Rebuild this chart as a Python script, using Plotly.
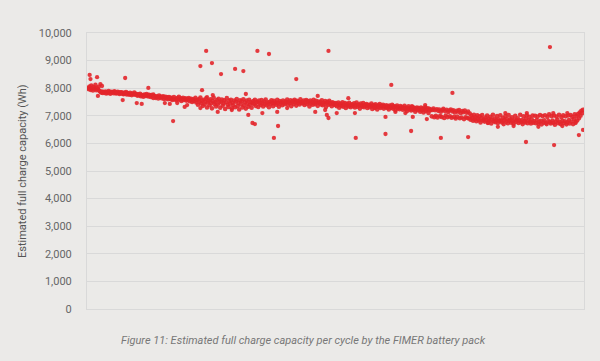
import plotly.graph_objects as go

# Main band of measurements: estimated full charge capacity (Wh) per cycle
capacity = [
    8010, 7970, 8060, 7940, 8100, 7990, 7920, 8040, 7980, 8120, 7930, 8000, 7960, 8050, 7900, 7870, 7840, 7880, 7830, 7860,
    7840, 7880, 7810, 7860, 7830, 7900, 7850, 7800, 7870, 7840, 7860, 7820, 7890, 7850, 7810, 7830, 7870, 7840, 7790, 7850,
    7820, 7850, 7800, 7780, 7830, 7810, 7860, 7770, 7820, 7800, 7760, 7830, 7790, 7750, 7810, 7780, 7840, 7760, 7800, 7770,
    7730, 7780, 7750, 7800, 7710, 7750, 7740, 7690, 7770, 7750, 7720, 7790, 7740, 7700, 7760, 7730, 7680, 7750, 7710, 7770,
    7720, 7690, 7650, 7710, 7690, 7630, 7730, 7670, 7700, 7640, 7680, 7710, 7610, 7660, 7690, 7630, 7670, 7600, 7680, 7650,
    7610, 7650, 7570, 7620, 7680, 7590, 7620, 7560, 7640, 7600, 7690, 7580, 7630, 7540, 7610, 7650, 7570, 7600, 7630, 7550,
    7610, 7580, 7640, 7530, 7590, 7620, 7500, 7560, 7600, 7540, 7650, 7480, 7570, 7400, 7600, 7510, 7660, 7450, 7540, 7360,
    7580, 7420, 7510, 7630, 7300, 7480, 7550, 7380, 7600, 7460, 7270, 7530, 7660, 7430, 7500, 7340, 7570, 7410, 7620, 7480,
    7290, 7520, 7590, 7370, 7450, 7560, 7250, 7490, 7640, 7400, 7320, 7540, 7440, 7580, 7270, 7470, 7380, 7550, 7310, 7510,
    7610, 7350, 7470, 7230, 7560, 7420, 7530, 7300, 7600, 7380, 7490, 7260, 7550, 7440, 7330, 7580, 7410, 7500, 7290, 7460,
    7530, 7420, 7580, 7360, 7480, 7510, 7320, 7550, 7450, 7390, 7570, 7470, 7340, 7520, 7430, 7590, 7380, 7490, 7450, 7310,
    7510, 7430, 7560, 7470, 7350, 7540, 7450, 7490, 7400, 7580, 7460, 7330, 7530, 7440, 7500, 7380, 7550, 7470, 7420, 7520,
    7480, 7590, 7400, 7510, 7460, 7560, 7350, 7480, 7540, 7430, 7580, 7500, 7370, 7540, 7460, 7520, 7410, 7600, 7470, 7500,
    7450, 7550, 7390, 7490, 7570, 7430, 7530, 7480, 7340, 7550, 7450, 7510, 7400, 7580, 7470, 7420, 7540, 7480, 7360, 7520,
    7460, 7500, 7410, 7560, 7380, 7480, 7440, 7530, 7320, 7470, 7510, 7400, 7540, 7430, 7470, 7350, 7490, 7420, 7450, 7390,
    7460, 7350, 7420, 7480, 7290, 7390, 7440, 7360, 7490, 7330, 7410, 7460, 7280, 7380, 7430, 7340, 7470, 7370, 7310, 7420,
    7400, 7350, 7450, 7300, 7390, 7480, 7330, 7410, 7370, 7260, 7440, 7380, 7340, 7460, 7310, 7400, 7360, 7430, 7280, 7370,
    7400, 7310, 7370, 7440, 7250, 7350, 7390, 7300, 7420, 7330, 7230, 7380, 7320, 7430, 7280, 7360, 7340, 7400, 7260, 7350,
    7310, 7380, 7280, 7340, 7230, 7370, 7320, 7290, 7400, 7260, 7350, 7310, 7200, 7330, 7370, 7270, 7300, 7240, 7350, 7280,
    7320, 7220, 7290, 7360, 7250, 7300, 7170, 7270, 7340, 7230, 7290, 7190, 7260, 7320, 7220, 7280, 7150, 7250, 7300, 7200,
    7280, 7230, 7150, 7300, 7200, 7260, 7120, 7240, 7310, 7170, 7220, 7270, 7100, 7250, 7190, 7230, 6980, 7210, 7260, 6950,
    7200, 7000, 7240, 6940, 7180, 7230, 6990, 7150, 6960, 7210, 7250, 6920, 7170, 7010, 7220, 6950, 7140, 7190, 6980, 7230,
    6930, 7160, 7200, 6960, 7120, 6900, 7180, 6970, 7150, 7210, 6910, 7100, 6940, 7170, 7130, 6880, 7190, 6950, 7110, 6920,
    7150, 6900, 7080, 6860, 7000, 6930, 6820, 7040, 6870, 6950, 6800, 7020, 6890, 6840, 6980, 6760, 6910, 7030, 6830, 6870,
    6790, 6940, 6850, 7010, 6750, 6880, 6820, 6960, 6720, 6860, 7040, 6800, 6900, 6770, 6840, 6990, 6740, 6870, 6810, 7020,
    6830, 6760, 6920, 6700, 6850, 6990, 6790, 6880, 6730, 7030, 6820, 6870, 6750, 6950, 6800, 6710, 6860, 7000, 6780, 6840,
    6910, 6740, 6820, 7040, 6770, 6850, 6700, 6980, 6810, 6760, 6890, 7020, 6730, 6830, 6960, 6780, 6720, 6870, 7010, 6750,
    6800, 7000, 6730, 6850, 6970, 6710, 6780, 7030, 6820, 6690, 6990, 6760, 6840, 7020, 6740, 6700, 6960, 6810, 7050, 6770,
    6720, 6990, 6830, 6750, 7010, 6680, 6790, 6970, 6860, 6730, 7040, 6770, 6700, 6950, 6820, 7020, 6740, 6800, 6980, 6690,
    6760, 7010, 6850, 6720, 7030, 6790, 6960, 6700, 6880, 7050, 6780, 6990, 6830, 7060, 6910, 7120, 7000, 7180, 7100, 7220,
]
cycles = list(range(len(capacity)))

# Stray readings just off the main band (cycle index, Wh)
stray_cycles = [12, 15, 17, 79, 93, 99, 108, 117, 120, 136, 144, 151, 157, 174, 194, 211, 229, 241, 275, 278,
                287, 289, 301, 315, 323, 347, 360, 372, 384, 392, 408, 484, 505, 515, 531, 545, 563, 574, 580, 590]
stray_capacity = [7720, 8150, 8080, 7640, 7460, 7430, 7460, 7320, 7390, 7280, 7680, 7750, 7140, 7210, 7030, 7100, 7140, 7280, 7140, 7720,
                  7210, 7030, 7100, 7640, 7100, 7280, 6960, 7140, 7100, 7350, 7390, 6740, 7100, 6630, 7100, 6600, 7100, 6630, 7100, 6740]

# Scattered outlier readings (cycle index, Wh)
outlier_cycles = [2, 3, 11, 45, 42, 59, 65, 73, 103, 136, 138, 143, 150, 161, 178, 188, 191, 205, 219,
                  199, 202, 225, 230, 252, 291, 291, 324, 360, 367, 391, 393, 410, 427, 441, 460,
                  496, 530, 559, 564, 594, 599]
outlier_capacity = [8480, 8330, 8400, 8370, 7570, 7460, 7430, 8010, 6810, 8800, 7930, 9350, 8910, 8510, 8700, 8620, 7790, 9350, 9240,
                    6740, 6700, 6200, 6630, 8330, 9350, 6920, 6200, 6340, 8120, 6450, 6960, 6880, 6200, 7830, 6230,
                    6600, 6050, 9490, 5940, 6300, 6490]

y_ticks = [0, 1000, 2000, 3000, 4000, 5000, 6000, 7000, 8000, 9000, 10000]
y_tick_labels = ["0", "1,000", "2,000", "3,000", "4,000", "5,000", "6,000", "7,000", "8,000", "9,000", "10,000"]

red = "#e3262b"
bg = "#ebeae8"
grid = "#d9d9d9"

fig = go.Figure()
fig.add_trace(go.Scatter(x=cycles, y=capacity, mode="markers",
                         marker=dict(color=red, size=4.6, opacity=0.9, line=dict(width=0)),
                         hoverinfo="skip", showlegend=False))
fig.add_trace(go.Scatter(x=stray_cycles, y=stray_capacity, mode="markers",
                         marker=dict(color=red, size=4.3, opacity=0.9, line=dict(width=0)),
                         hoverinfo="skip", showlegend=False))
fig.add_trace(go.Scatter(x=outlier_cycles, y=outlier_capacity, mode="markers",
                         marker=dict(color=red, size=4.3, opacity=0.9, line=dict(width=0)),
                         hoverinfo="skip", showlegend=False))

fig.update_layout(
    width=600, height=361,
    margin=dict(l=87, r=16, t=33, b=52),
    paper_bgcolor=bg, plot_bgcolor=bg,
    font=dict(family="Roboto, Noto Sans, sans-serif", color="#666666", size=11),
    xaxis=dict(range=[-1.2, 600.2], showticklabels=False, showgrid=False, zeroline=False,
               showline=True, linecolor=grid, linewidth=1, mirror=True, ticks=""),
    yaxis=dict(range=[0, 10000], tickvals=y_ticks, ticktext=y_tick_labels,
               showgrid=True, gridcolor=grid, gridwidth=1, zeroline=False,
               showline=True, linecolor=grid, linewidth=1, mirror=True,
               ticks="", ticklabelstandoff=12, tickfont=dict(size=11, color="#666666")),
    annotations=[
        dict(text="Estimated full charge capacity (Wh)", xref="paper", yref="paper",
             x=-65 / 497, y=0.5, xanchor="center", yanchor="middle", textangle=-90,
             showarrow=False, font=dict(size=11, color="#555555")),
        dict(text="<i>Figure 11: Estimated full charge capacity per cycle by the FIMER battery pack</i>",
             xref="paper", yref="paper", x=32 / 497, y=-31 / 276, xanchor="left", yanchor="middle",
             showarrow=False, font=dict(size=11, color="#777777")),
    ],
)

fig.write_html("out.html")
